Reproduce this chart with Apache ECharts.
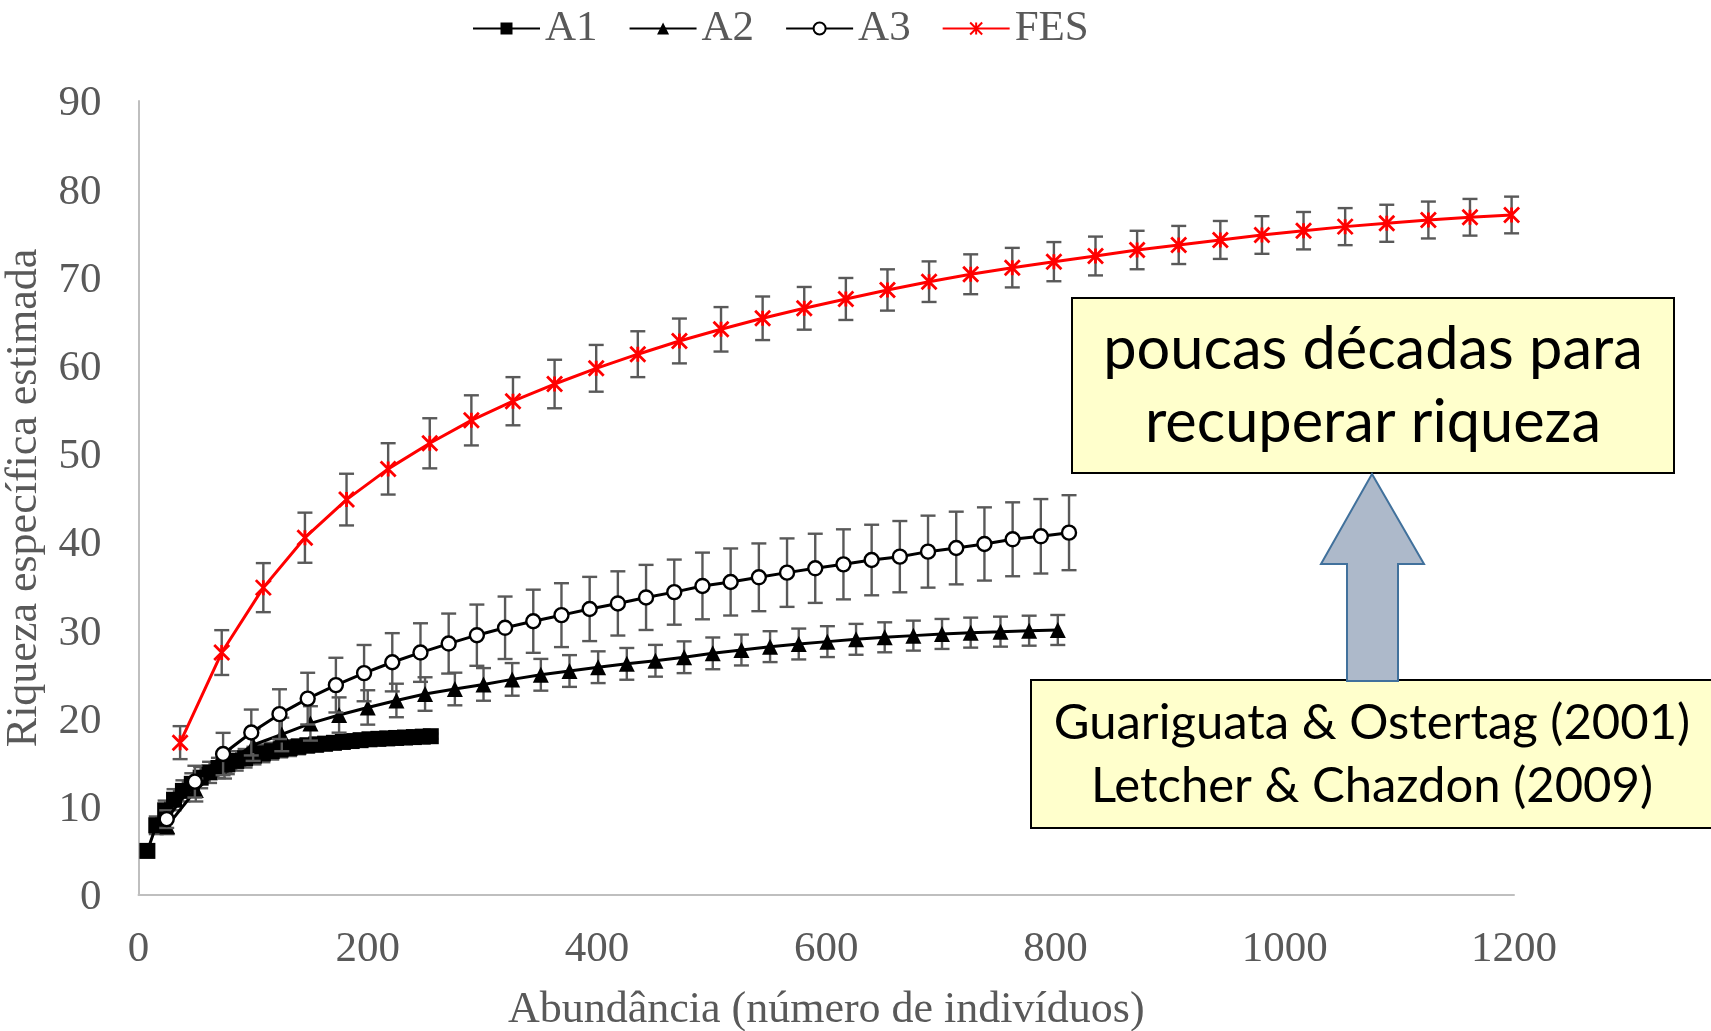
<!DOCTYPE html>
<html><head><meta charset="utf-8">
<script src="https://cdn.jsdelivr.net/npm/echarts@6/dist/echarts.min.js"></script>
<style>html,body{margin:0;padding:0;background:#fff}#c{width:1711px;height:1031px}</style>
</head><body><div id="c"></div>
<script>
// ---- data ----
const seriesNames = ['A1', 'A2', 'A3', 'FES'];
const xAxisTitle = 'Abundância (número de indivíduos)';
const yAxisTitle = 'Riqueza específica estimada';
const boxTopText = ['poucas décadas para', 'recuperar riqueza'];
const boxBottomText = ['Guariguata & Ostertag (2001)', 'Letcher & Chazdon (2009)'];

const a1X = [7.75, 15.5, 23.25, 31, 38.75, 46.5, 54.25, 62, 69.75, 77.5, 85.25, 93, 100.75, 108.5, 116.25, 124, 131.75, 139.5, 147.25, 155, 162.75, 170.5, 178.25, 186, 193.75, 201.5, 209.25, 217, 224.75, 232.5, 240.25, 248, 255];
const a1Y = [5.0, 7.9, 9.6, 10.8, 11.8, 12.6, 13.3, 13.9, 14.4, 14.8, 15.2, 15.5, 15.8, 16.05, 16.3, 16.5, 16.65, 16.8, 16.95, 17.05, 17.15, 17.25, 17.35, 17.45, 17.55, 17.65, 17.7, 17.75, 17.8, 17.85, 17.9, 17.95, 18.0];
const a1Err = [0.7, 1.0, 1.1, 1.2, 1.2, 1.2, 1.2, 1.2, 1.15, 1.1, 1.1, 1.05, 1.0, 1.0, 0.95, 0.9, 0.9, 0.85, 0.8, 0.8, 0.75, 0.7, 0.7, 0.65, 0.6, 0.6, 0.55, 0.5, 0.5, 0.45, 0.4, 0.4, 0.3];

const a2X = [25, 50, 75, 100, 125, 150, 175, 200, 225, 250, 276, 301, 326, 351, 376, 401, 426, 451, 476, 501, 526, 551, 576, 601, 626, 651, 676, 701, 726, 752, 777, 802];
const a2Y = [7.8, 11.9, 14.8, 17.0, 18.2, 19.45, 20.4, 21.26, 22.05, 22.78, 23.35, 23.87, 24.44, 24.96, 25.39, 25.82, 26.2, 26.55, 26.95, 27.39, 27.77, 28.15, 28.45, 28.72, 28.98, 29.21, 29.4, 29.59, 29.74, 29.85, 29.96, 30.04];
const a2Err = [0.9, 1.3, 1.6, 1.8, 1.9, 1.95, 2.0, 1.95, 1.9, 1.9, 1.85, 1.85, 1.85, 1.8, 1.8, 1.8, 1.8, 1.8, 1.8, 1.8, 1.75, 1.75, 1.75, 1.75, 1.75, 1.7, 1.7, 1.7, 1.7, 1.7, 1.7, 1.7];

const a3X = [24.6, 49.2, 73.8, 98.4, 123, 147.6, 172.2, 196.8, 221.4, 246, 270.6, 295.2, 319.8, 344.4, 369, 393.6, 418.2, 442.8, 467.4, 492, 516.6, 541.2, 565.8, 590.4, 615, 639.6, 664.2, 688.8, 713.4, 738, 762.6, 787.2, 811.8];
const a3Y = [8.6, 12.85, 15.98, 18.42, 20.5, 22.26, 23.79, 25.15, 26.38, 27.48, 28.5, 29.45, 30.29, 31.03, 31.72, 32.42, 33.05, 33.73, 34.33, 35.03, 35.48, 36.01, 36.54, 37.03, 37.48, 37.97, 38.35, 38.92, 39.33, 39.79, 40.32, 40.66, 41.07];
const a3Err = [1.0, 1.8, 2.4, 2.6, 2.82, 2.93, 3.1, 3.19, 3.3, 3.32, 3.4, 3.47, 3.54, 3.58, 3.62, 3.64, 3.64, 3.69, 3.69, 3.78, 3.8, 3.84, 3.88, 3.92, 3.97, 4.0, 4.04, 4.08, 4.12, 4.15, 4.19, 4.22, 4.25];

const fesX = [36.3, 72.6, 108.9, 145.2, 181.5, 217.8, 254.1, 290.4, 326.7, 363, 399.3, 435.6, 471.9, 508.2, 544.5, 580.8, 617.1, 653.4, 689.7, 726, 762.3, 798.6, 834.9, 871.2, 907.5, 943.8, 980.1, 1016.4, 1052.7, 1089, 1125.3, 1161.6, 1197.9];
const fesY = [17.27, 27.48, 34.84, 40.5, 44.82, 48.3, 51.2, 53.8, 55.97, 57.92, 59.7, 61.3, 62.8, 64.12, 65.37, 66.5, 67.56, 68.58, 69.52, 70.36, 71.11, 71.79, 72.43, 73.11, 73.68, 74.25, 74.81, 75.3, 75.76, 76.14, 76.51, 76.82, 77.08];
const fesErr = [1.87, 2.54, 2.78, 2.84, 2.93, 2.91, 2.84, 2.84, 2.73, 2.75, 2.65, 2.6, 2.54, 2.52, 2.47, 2.42, 2.38, 2.34, 2.3, 2.26, 2.24, 2.22, 2.2, 2.18, 2.16, 2.15, 2.13, 2.12, 2.1, 2.1, 2.09, 2.08, 2.08];

// ---- chart ----
const SERIF = '"Liberation Serif", "Times New Roman", serif';
const GREY = '#595959';
const pts = (xs, ys) => xs.map((x, i) => [x, ys[i]]);
const errs = (xs, ys, es) => xs.map((x, i) => [x, ys[i] - es[i], ys[i] + es[i]]);

function errRender(params, api) {
  const x = api.value(0), lo = api.value(1), hi = api.value(2);
  const p1 = api.coord([x, hi]), p2 = api.coord([x, lo]);
  const cap = 7.5;
  const style = { stroke: GREY, lineWidth: 2.4 };
  return { type: 'group', children: [
    { type: 'line', shape: { x1: p1[0], y1: p1[1], x2: p2[0], y2: p2[1] }, style },
    { type: 'line', shape: { x1: p1[0] - cap, y1: p1[1], x2: p1[0] + cap, y2: p1[1] }, style },
    { type: 'line', shape: { x1: p2[0] - cap, y1: p2[1], x2: p2[0] + cap, y2: p2[1] }, style }
  ]};
}
const errSeries = (name, data, z) => ({
  type: 'custom', name: name + ' err', data, z, renderItem: errRender,
  encode: { x: 0, y: [1, 2] }, silent: true
});

const asterisk = 'path://M0,0L10,10M10,0L0,10M5,0L5,10';

const chart = echarts.init(document.getElementById('c'), null, { renderer: 'canvas' });
chart.setOption({
  animation: false,
  backgroundColor: '#fff',
  grid: { left: 138.5, right: 197, top: 101, bottom: 136, containLabel: false, outerBoundsMode: 'none' },
  legend: {
    data: seriesNames, left: 472, top: 7, padding: 0,
    itemWidth: 67, itemHeight: 15, itemGap: 31,
    textStyle: { fontFamily: SERIF, fontSize: 43, color: GREY }
  },
  xAxis: {
    type: 'value', min: 0, max: 1200, interval: 200,
    name: xAxisTitle, nameLocation: 'middle', nameGap: 93,
    nameTextStyle: { fontFamily: SERIF, fontSize: 44, color: GREY },
    axisLine: { show: true, lineStyle: { color: '#BFBFBF', width: 2 } },
    axisTick: { show: false }, splitLine: { show: false },
    axisLabel: { fontFamily: SERIF, fontSize: 43, color: GREY, margin: 33, formatter: v => String(v) }
  },
  yAxis: {
    type: 'value', min: 0, max: 90, interval: 10,
    name: yAxisTitle, nameLocation: 'middle', nameGap: 92, nameRotate: 90,
    nameTextStyle: { fontFamily: SERIF, fontSize: 44, color: GREY },
    axisLine: { show: true, lineStyle: { color: '#BFBFBF', width: 2 } },
    axisTick: { show: false }, splitLine: { show: false },
    axisLabel: { fontFamily: SERIF, fontSize: 43, color: GREY, margin: 37, verticalAlign: 'top', lineHeight: 6 }
  },
  series: [
    errSeries('A1', errs(a1X, a1Y, a1Err), 2),
    { type: 'line', name: 'A1', data: pts(a1X, a1Y), z: 3, symbol: 'rect', symbolSize: 16,
      lineStyle: { color: '#000', width: 3 }, itemStyle: { color: '#000' } },
    errSeries('A2', errs(a2X, a2Y, a2Err), 4),
    { type: 'line', name: 'A2', data: pts(a2X, a2Y), z: 5, symbol: 'triangle', symbolSize: 16,
      lineStyle: { color: '#000', width: 3 }, itemStyle: { color: '#000' } },
    errSeries('A3', errs(a3X, a3Y, a3Err), 6),
    { type: 'line', name: 'A3', data: pts(a3X, a3Y), z: 7, symbol: 'circle', symbolSize: 14,
      lineStyle: { color: '#000', width: 3 }, itemStyle: { color: '#fff', borderColor: '#000', borderWidth: 2.4 } },
    errSeries('FES', errs(fesX, fesY, fesErr), 8),
    { type: 'line', name: 'FES', data: pts(fesX, fesY), z: 9, symbol: asterisk, symbolSize: 15,
      lineStyle: { color: '#FF0000', width: 3 }, itemStyle: { color: '#FF0000', borderColor: '#FF0000', borderWidth: 2.8 } }
  ],
  graphic: [
    { type: 'rect', z: 100, shape: { x: 1072, y: 298, width: 602, height: 175 },
      style: { fill: '#FFFFCC', stroke: '#000', lineWidth: 2 } },
    { type: 'text', z: 101, style: { text: boxTopText.join('\n'), x: 1373, y: 386, align: 'center', verticalAlign: 'middle',
      font: '59.5px Lato, "Open Sans", sans-serif', lineHeight: 73, fill: '#000' } },
    { type: 'rect', z: 100, shape: { x: 1031, y: 680, width: 684, height: 148 },
      style: { fill: '#FFFFCC', stroke: '#000', lineWidth: 2 } },
    { type: 'text', z: 101, style: { text: boxBottomText.join('\n'), x: 1372, y: 755, align: 'center', verticalAlign: 'middle',
      font: '49px Lato, "Open Sans", sans-serif', lineHeight: 63, fill: '#000' } },
    { type: 'polygon', z: 102, shape: { points: [[1372, 474], [1424, 564], [1398, 564], [1398, 681], [1347, 681], [1347, 564], [1321, 564]] },
      style: { fill: '#ADB9CA', stroke: '#41719C', lineWidth: 2 } }
  ]
});
</script></body></html>
